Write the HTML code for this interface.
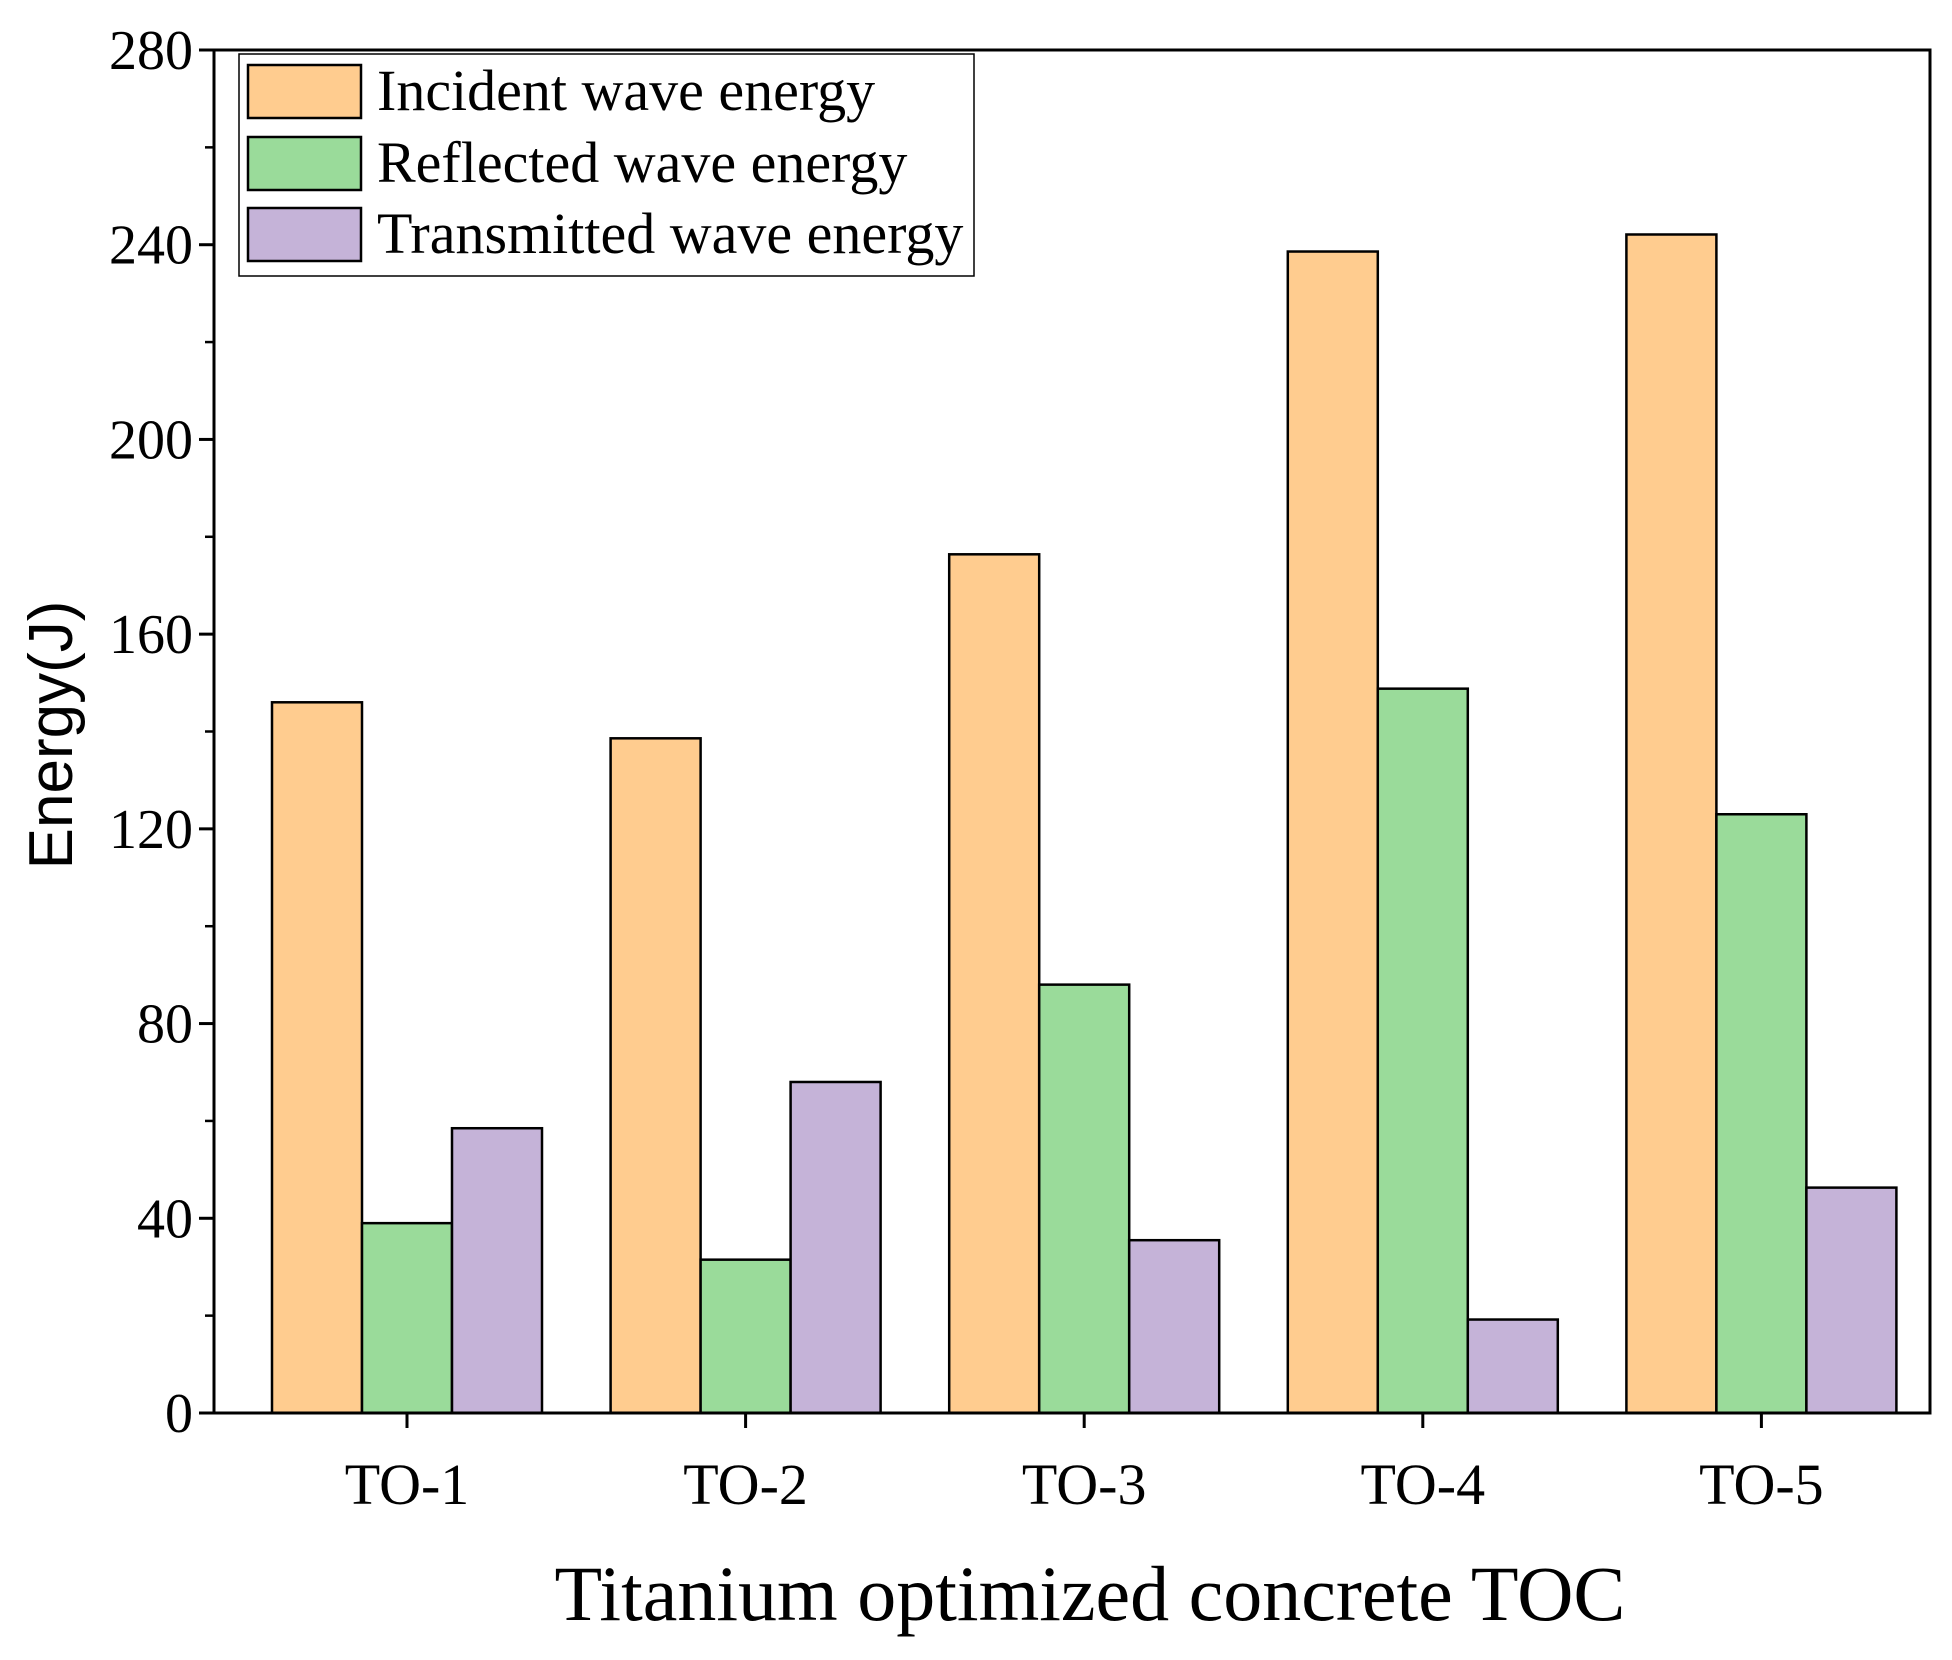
<!DOCTYPE html>
<html><head><meta charset="utf-8"><style>
html,body{margin:0;padding:0;background:#fff;}
svg{display:block;}
</style></head><body>
<svg id="chart" width="1952" height="1660" xmlns="http://www.w3.org/2000/svg">
<g id="bars"></g>
<g id="axes"></g>
<text transform="translate(72,735) rotate(-90)" text-anchor="middle" font-family="Liberation Sans, sans-serif" font-size="62">Energy(J)</text>
<text x="1090" y="1620" text-anchor="middle" font-family="Liberation Serif, serif" font-size="78">Titanium optimized concrete TOC</text>
<g>
<rect x="239" y="54" width="735" height="222" fill="#fff" stroke="#000" stroke-width="1.5"/>
<rect x="248" y="65" width="113" height="53" fill="#FFCC8F" stroke="#000" stroke-width="2.5"/>
<text x="377" y="110" font-family="Liberation Serif, serif" font-size="58">Incident wave energy</text>
<rect x="248" y="137" width="113" height="53" fill="#9ADB9A" stroke="#000" stroke-width="2.5"/>
<text x="377" y="182" font-family="Liberation Serif, serif" font-size="58">Reflected wave energy</text>
<rect x="248" y="208" width="113" height="53" fill="#C5B3D8" stroke="#000" stroke-width="2.5"/>
<text x="377" y="253" font-family="Liberation Serif, serif" font-size="58">Transmitted wave energy</text>
</g>
</svg>
<script>
const categories = ["TO-1","TO-2","TO-3","TO-4","TO-5"];
const incident = [146, 138.6, 176.4, 238.6, 242.1];
const reflected = [39, 31.5, 88, 148.8, 123];
const transmitted = [58.5, 68, 35.5, 19.2, 46.3];
const yTicks = [0,40,80,120,160,200,240,280];

const NS = "http://www.w3.org/2000/svg";
const L = 214, R = 1930, T = 50, B = 1413;
const yMax = 280;
function y(v){ return B - (v / yMax) * (B - T); }
function xc(i){ return 407 + 338.6 * i; }
const bw = 90;
const series = [
  {vals: incident, color: "#FFCC8F", name: "incident"},
  {vals: reflected, color: "#9ADB9A", name: "reflected"},
  {vals: transmitted, color: "#C5B3D8", name: "transmitted"}
];
const gBars = document.getElementById("bars");
series.forEach((s, si) => {
  s.vals.forEach((v, i) => {
    const r = document.createElementNS(NS, "rect");
    const x0 = xc(i) - 1.5 * bw + si * bw;
    r.setAttribute("x", x0);
    r.setAttribute("y", y(v));
    r.setAttribute("width", bw);
    r.setAttribute("height", B - y(v));
    r.setAttribute("fill", s.color);
    r.setAttribute("stroke", "#000");
    r.setAttribute("stroke-width", "2.5");
    
    
    gBars.appendChild(r);
  });
});
const gAx = document.getElementById("axes");
function line(x1,y1,x2,y2,w){
  const l = document.createElementNS(NS,"line");
  l.setAttribute("x1",x1);l.setAttribute("y1",y1);l.setAttribute("x2",x2);l.setAttribute("y2",y2);
  l.setAttribute("stroke","#000");l.setAttribute("stroke-width",w||3);
  gAx.appendChild(l); return l;
}
const frame = document.createElementNS(NS,"rect");
frame.setAttribute("x",L);frame.setAttribute("y",T);frame.setAttribute("width",R-L);frame.setAttribute("height",B-T);
frame.setAttribute("fill","none");frame.setAttribute("stroke","#000");frame.setAttribute("stroke-width","3");


gAx.appendChild(frame);
yTicks.forEach((t, k) => {
  const l = line(L-15, y(t), L, y(t), 3);
  
  
  if (k < yTicks.length - 1) {
    const m = line(L-9, y(t+20), L, y(t+20), 2.5);
    
    
  }
  const tx = document.createElementNS(NS,"text");
  tx.setAttribute("x", 193); tx.setAttribute("y", y(t) + 19);
  tx.setAttribute("text-anchor","end");
  tx.setAttribute("font-family","Liberation Serif, serif");
  tx.setAttribute("font-size","56");
  tx.textContent = t;
  
  
  gAx.appendChild(tx);
});
categories.forEach((c, i) => {
  const l = line(xc(i), B, xc(i), B+15, 3);
  
  
  const tx = document.createElementNS(NS,"text");
  tx.setAttribute("x", xc(i)); tx.setAttribute("y", 1504);
  tx.setAttribute("text-anchor","middle");
  tx.setAttribute("font-family","Liberation Serif, serif");
  tx.setAttribute("font-size","58");
  tx.textContent = c;
  
  
  gAx.appendChild(tx);
});
</script>
</body></html>
